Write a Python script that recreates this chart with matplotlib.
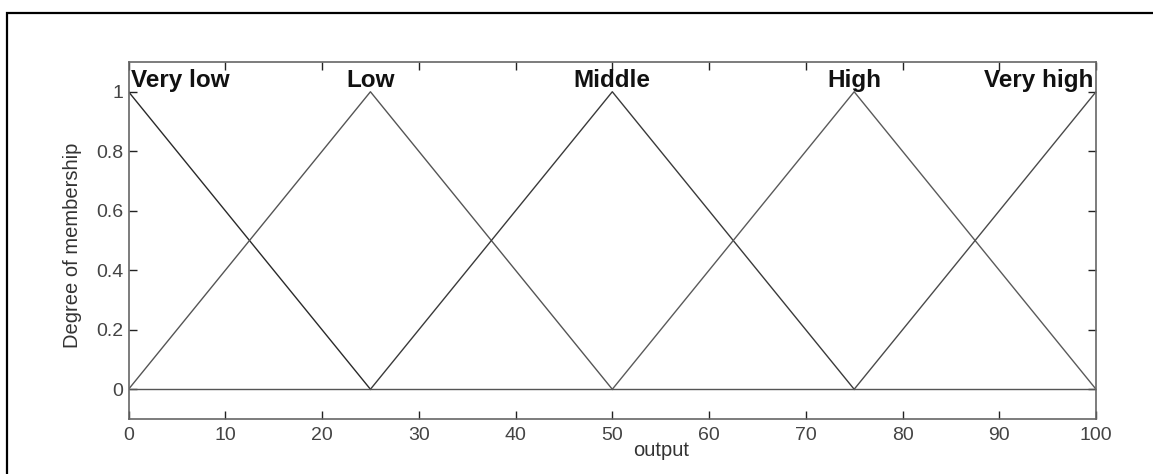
import numpy as np
import matplotlib.pyplot as plt
from matplotlib.patches import Rectangle

plt.rcParams['font.family'] = ['Liberation Sans', 'DejaVu Sans']

# triangular membership functions [a, b, c]
mf_names = ['Very low', 'Low', 'Middle', 'High', 'Very high']
mf_params = [[-25, 0, 25], [0, 25, 50], [25, 50, 75], [50, 75, 100], [75, 100, 125]]
mf_peak = [1, 1, 1, 1, 1]

x_ticks = [0, 10, 20, 30, 40, 50, 60, 70, 80, 90, 100]
y_ticks = [0, 0.2, 0.4, 0.6, 0.8, 1]
y_tick_labels = ['0', '0.2', '0.4', '0.6', '0.8', '1']

fig = plt.figure(figsize=(11.53, 4.74), dpi=100)
ax = fig.add_axes([0.1115, 0.116, 0.8391, 0.7532])

line_colors = ['#2a2a2a', '#555555', '#3a3a3a', '#5a5a5a', '#4a4a4a']
for (a, b, c), h, col in zip(mf_params, mf_peak, line_colors):
    ax.plot([a, b, c], [0, h, 0], color=col, linewidth=1.0)

ax.axhline(0, color='#555555', linewidth=1.0)

ax.set_xlim(0, 100)
ax.set_ylim(-0.1, 1.1)
ax.set_xticks(x_ticks)
ax.set_yticks(y_ticks)
ax.set_yticklabels(y_tick_labels)
ax.tick_params(direction='in', top=True, right=True, length=6, width=1,
               color='#222222', labelcolor='#444444', labelsize=14)
ax.tick_params(axis='x', pad=6)
ax.tick_params(axis='y', pad=4)
for sp in ax.spines.values():
    sp.set_color('#666666')
    sp.set_linewidth(1.2)

# class names over the peaks
for name, (a, b, c) in zip(mf_names, mf_params):
    if b <= 0:
        ha, xpos = 'left', b + 0.3
    elif b >= 100:
        ha, xpos = 'right', b - 0.3
    else:
        ha, xpos = 'center', b
    ax.text(xpos, 1.017, name, ha=ha, va='baseline', fontsize=17.5,
            fontweight='bold', color='#111111')

ax.text(0.5504, -0.087, 'output', transform=ax.transAxes, ha='center',
        va='center', fontsize=14.5, color='#333333')
ax.text(-0.0584, 0.487, 'Degree of membership', transform=ax.transAxes,
        ha='center', va='center', rotation=90, fontsize=14.5, color='#333333')

# outer frame
fig.add_artist(Rectangle((7 / 1153, -0.2), 2.0, 1.2 - 13 / 474,
                         transform=fig.transFigure, fill=False,
                         edgecolor='black', linewidth=1.6, clip_on=False))

fig.savefig('out.png', dpi=100)
